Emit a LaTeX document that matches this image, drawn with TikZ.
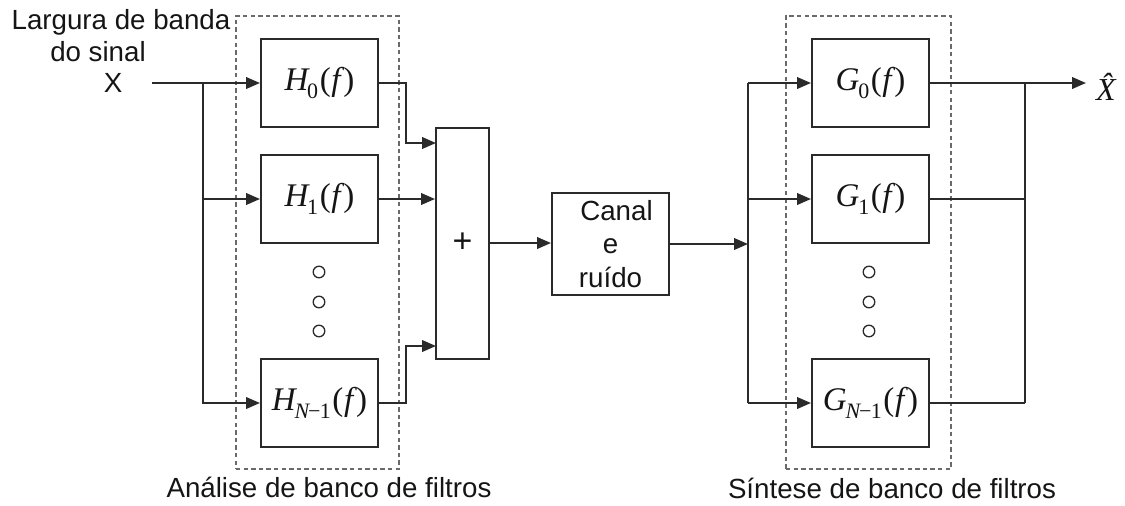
\documentclass[tikz,border=0pt]{standalone}
\usepackage{fontspec}
\setmainfont{Liberation Sans}
\newfontfamily\tms{Liberation Serif}
\usetikzlibrary{arrows.meta}
\definecolor{lc}{HTML}{2A2A2A}
\definecolor{dc}{HTML}{6A6A6A}
\definecolor{tc}{HTML}{151515}
% filter transfer function: name, subscript
\newcommand\filt[2]{{\tms\itshape #1}\kern-0.6pt\raisebox{-0.45ex}{\tms\fontsize{11}{11}\selectfont #2}\kern0.8pt{\tms(\kern0.3pt{\itshape f}\kern1.4pt)}}
\newcommand\nsub{{\itshape N}\kern-0.6pt\char"2212\kern-0.3pt 1}
\begin{document}
\begin{tikzpicture}[x=0.5pt,y=-0.5pt,
  wire/.style={draw=lc,line width=1pt},
  arr/.style={wire,-{Triangle[length=7pt,width=5.8pt]}},
  filterbox/.style={draw=lc,line width=1pt,minimum width=58.5pt,minimum height=44pt,
    inner sep=0pt,text=tc,font=\fontsize{16.5}{19}\selectfont},
  groupbox/.style={draw=dc,line width=0.65pt,dash pattern=on 2.2pt off 1.6pt,inner sep=0pt},
  lbl/.style={inner sep=0pt,text=tc,font=\fontsize{13.85}{16.6}\selectfont},
  ring/.style={circle,draw=lc,line width=0.65pt,minimum size=5.8pt,inner sep=0pt}]
\useasboundingbox (0,0) rectangle (1125,505);

% groups of the two filter banks
\node[groupbox,minimum width=81.5pt,minimum height=226.5pt] (ana) at (317.5,242.5) {};
\node[groupbox,minimum width=82.5pt,minimum height=226.5pt] (syn) at (868.5,242.5) {};
\node[lbl] (analbl) at (329,487) {Análise de banco de filtros};
\node[lbl] (synlbl) at (892,488) {Síntese de banco de filtros};

% input labels
\node[lbl] (lab1) at (121,22) {Largura de banda};
\node[lbl] (lab2) at (98,52) {do sinal};
\node[lbl] (xin) at (113,83) {X};

% analysis filters
\node[filterbox] (H0) at (319.5,83) {\filt{H}{0}};
\node[filterbox] (H1) at (319.5,199) {\filt{H}{1}};
\node[filterbox] (HN) at (319.5,403) {\filt{H}{\nsub}};
\node[ring] (ha) at (319,272) {};
\node[ring] (hb) at (319,302) {};
\node[ring] (hc) at (319,331) {};

% adder and channel
\node[draw=lc,line width=1pt,minimum width=26.5pt,minimum height=115.5pt,inner sep=0pt,
  font=\fontsize{17}{17}\selectfont,text=tc] (sum) at (462.5,243) {+};
\node[draw=lc,line width=1pt,minimum width=58.5pt,minimum height=51pt,inner sep=0pt,
  align=center,text=tc,font=\fontsize{13.85}{16.6}\selectfont] (canal) at (610.5,244)
  {\kern6pt Canal\\e\\ruído};

% synthesis filters
\node[filterbox] (G0) at (870.5,83) {\filt{G}{0}};
\node[filterbox] (G1) at (870.5,199) {\filt{G}{1}};
\node[filterbox] (GN) at (870.5,403) {\filt{G}{\nsub}};
\node[ring] (ga) at (869,272) {};
\node[ring] (gb) at (869,302) {};
\node[ring] (gc) at (869,331) {};

\node[inner sep=0pt,text=tc,font=\fontsize{16}{18}\selectfont] (xhat) at (1106,87) {{\tms\itshape\^{X}}};

% branch and bend points
\coordinate (xstart) at (152,83);
\coordinate (split) at (203,83);
\coordinate (bend) at (406,0);
\coordinate (s0) at (436,143);
\coordinate (sN) at (436,346);
\coordinate (split2) at (748,244);
\coordinate (join) at (1025,0);
\coordinate (xend) at (1086,83);

% analysis side
\draw[arr] (xstart) -- (H0.west);
\draw[arr] (split) |- (HN.west);
\draw[arr] (split |- H1.west) -- (H1.west);
\draw[arr] (H0.east) -| (bend |- s0) -- (s0);
\draw[arr] (H1.east) -- (H1.east -| sum.west);
\draw[arr] (HN.east) -| (bend |- sN) -- (sN);
\draw[arr] (sum.east) -- (sum.east -| canal.west);

% synthesis side
\draw[arr] (canal.east) -- (split2);
\draw[wire] (split2 |- G0.west) -- (split2 |- GN.west);
\draw[arr] (split2 |- G0.west) -- (G0.west);
\draw[arr] (split2 |- G1.west) -- (G1.west);
\draw[arr] (split2 |- GN.west) -- (GN.west);
\draw[wire] (join |- G0.east) -- (join |- GN.east);
\draw[wire] (G1.east) -- (join |- G1.east);
\draw[wire] (GN.east) -- (join |- GN.east);
\draw[arr] (G0.east) -- (xend);
\end{tikzpicture}
\end{document}
